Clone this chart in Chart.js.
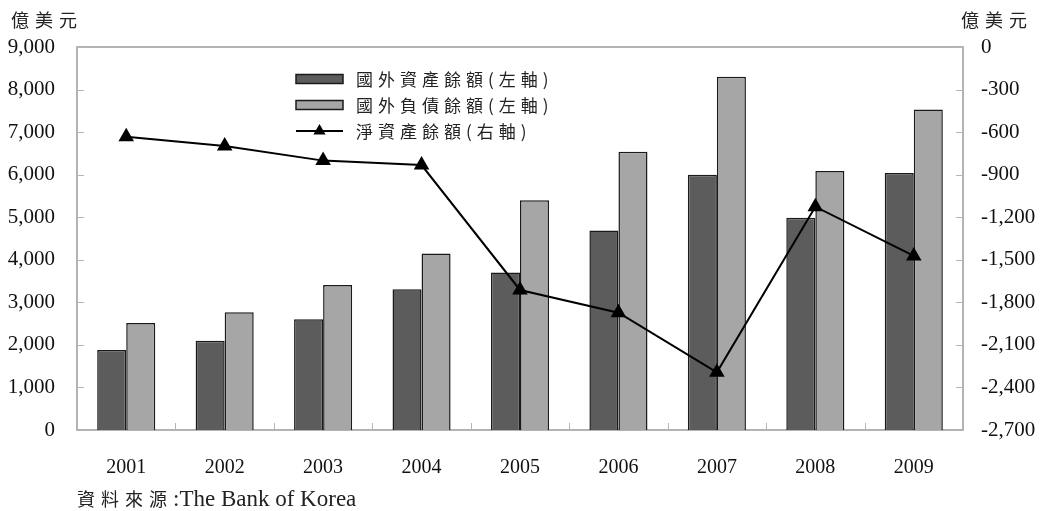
<!DOCTYPE html>
<html>
<head>
<meta charset="utf-8">
<script src="https://cdn.jsdelivr.net/npm/chart.js@4/dist/chart.umd.min.js"></script>
<style>
  html, body { margin: 0; padding: 0; background: #fff; }
  #wrap { position: relative; width: 1043px; height: 511px; overflow: hidden; }
  canvas { position: absolute; left: 0; top: 0; }
  .note { position: absolute; color: #222; white-space: nowrap; }
  .cjk { font-family: "Noto Sans CJK TC", "Noto Sans CJK SC", sans-serif; font-size: 18px; letter-spacing: 6px; line-height: 1; }
  .latin { font-family: "Liberation Serif", "DejaVu Serif", serif; font-size: 23px; letter-spacing: 0; }
</style>
</head>
<body>
<div id="wrap">
  <canvas id="chart" width="1043" height="511"></canvas>
  <div class="note cjk" style="left:11px; top:10px;">億美元</div>
  <div class="note cjk" style="left:961px; top:10px;">億美元</div>
  <div class="note cjk" style="left:77px; top:487px;">資料來源<span class="latin">:The Bank of Korea</span></div>
</div>
<script>
// Years on the category axis
const years = ['2001', '2002', '2003', '2004', '2005', '2006', '2007', '2008', '2009'];

// External assets and liabilities outstanding (100 million USD, left axis)
const externalAssets = [1880, 2100, 2600, 3310, 3700, 4690, 6000, 4985, 6040];
const externalLiabilities = [2515, 2765, 3405, 4150, 5400, 6540, 8300, 6085, 7530];

// Net asset position (100 million USD, right axis)
const netPosition = [-632, -698, -801, -832, -1713, -1873, -2293, -1126, -1473];

// Series names shown in the legend
const seriesNames = ['國外資產餘額(左軸)', '國外負債餘額(左軸)', '淨資產餘額(右軸)'];

// Axis ranges: min, max, step
const leftAxisRange = [0, 9000, 1000];
const rightAxisRange = [-2700, 0, 300];

const AXIS_GRAY = '#9a9a9a';
const fmt = v => Number(v).toLocaleString('en-US');

// Plot frame and inward tick marks
const framePlugin = {
  id: 'frame',
  beforeDatasetsDraw(chart) {
    const { ctx, chartArea: a, scales } = chart;
    ctx.save();
    ctx.strokeStyle = AXIS_GRAY;
    ctx.lineWidth = 1.5;
    ctx.strokeRect(a.left, a.top, a.right - a.left, a.bottom - a.top);
    ctx.lineWidth = 1;
    ctx.strokeStyle = '#b5b5b5';
    ctx.beginPath();
    scales.y.ticks.forEach(t => {
      const y = Math.round(scales.y.getPixelForValue(t.value)) + 0.5;
      ctx.moveTo(a.left, y); ctx.lineTo(a.left + 7, y);
    });
    scales.y1.ticks.forEach(t => {
      const y = Math.round(scales.y1.getPixelForValue(t.value)) + 0.5;
      ctx.moveTo(a.right - 7, y); ctx.lineTo(a.right, y);
    });
    const n = years.length;
    const step = (a.right - a.left) / n;
    for (let i = 1; i < n; i++) {
      const x = Math.round(a.left + i * step) + 0.5;
      ctx.moveTo(x, a.bottom); ctx.lineTo(x, a.bottom - 7);
    }
    ctx.stroke();
    ctx.restore();
  }
};

// Legend drawn inside the plot area
const innerLegendPlugin = {
  id: 'innerLegend',
  afterDraw(chart) {
    const { ctx } = chart;
    const x0 = 296, boxW = 47, boxH = 9, textX = 356;
    const rows = [79, 105, 131];
    ctx.save();
    ctx.font = '17px "Noto Sans CJK TC", "Noto Sans CJK SC", sans-serif';
    ctx.textBaseline = 'middle';
    ctx.textAlign = 'left';
    if ('letterSpacing' in ctx) ctx.letterSpacing = '5px';
    chart.data.datasets.forEach((ds, i) => {
      const y = rows[i];
      if (ds.type === 'line') {
        ctx.strokeStyle = '#000';
        ctx.lineWidth = 2;
        ctx.beginPath();
        ctx.moveTo(x0, y); ctx.lineTo(x0 + boxW, y);
        ctx.stroke();
        const cx = x0 + boxW / 2, r = 7;
        ctx.fillStyle = '#000';
        ctx.beginPath();
        ctx.moveTo(cx, y - r);
        ctx.lineTo(cx + r * 0.87, y + r * 0.5);
        ctx.lineTo(cx - r * 0.87, y + r * 0.5);
        ctx.closePath();
        ctx.fill();
      } else {
        ctx.fillStyle = ds.backgroundColor;
        ctx.fillRect(x0, y - boxH / 2, boxW, boxH);
        ctx.strokeStyle = '#1a1a1a';
        ctx.lineWidth = 1.5;
        ctx.strokeRect(x0, y - boxH / 2, boxW, boxH);
      }
      ctx.fillStyle = '#222';
      ctx.fillText(ds.label, textX, y + 1);
    });
    ctx.restore();
  }
};

new Chart(document.getElementById('chart'), {
  data: {
    labels: years,
    datasets: [
      {
        type: 'bar',
        label: seriesNames[0],
        data: externalAssets,
        yAxisID: 'y',
        order: 1,
        backgroundColor: '#5c5c5c',
        borderColor: '#1a1a1a',
        borderWidth: 1.5
      },
      {
        type: 'bar',
        label: seriesNames[1],
        data: externalLiabilities,
        yAxisID: 'y',
        order: 2,
        backgroundColor: '#a6a6a6',
        borderColor: '#1a1a1a',
        borderWidth: 1.5
      },
      {
        type: 'line',
        label: seriesNames[2],
        data: netPosition,
        yAxisID: 'y1',
        order: 0,
        borderColor: '#000',
        borderWidth: 2,
        backgroundColor: '#000',
        pointStyle: 'triangle',
        pointRadius: 7,
        pointBackgroundColor: '#000',
        pointBorderColor: '#000',
        tension: 0
      }
    ]
  },
  options: {
    responsive: false,
    animation: false,
    devicePixelRatio: 1,
    layout: { padding: { top: 47, left: 0, right: 0, bottom: 0 } },
    datasets: { bar: { categoryPercentage: 0.59, barPercentage: 1.0 } },
    plugins: { legend: { display: false }, tooltip: { enabled: false } },
    scales: {
      x: {
        grid: { display: false, drawTicks: false },
        border: { display: false },
        ticks: {
          color: '#111',
          padding: 26,
          font: { family: '"Liberation Serif", serif', size: 20 }
        },
        afterFit(s) { s.height = 81; }
      },
      y: {
        position: 'left',
        min: leftAxisRange[0], max: leftAxisRange[1],
        grid: { display: false, drawTicks: false },
        border: { display: false },
        ticks: {
          stepSize: leftAxisRange[2],
          color: '#111',
          padding: 22,
          font: { family: '"Liberation Serif", serif', size: 21 },
          callback: v => fmt(v)
        },
        afterFit(s) { s.width = 77; }
      },
      y1: {
        position: 'right',
        min: rightAxisRange[0], max: rightAxisRange[1],
        grid: { display: false, drawTicks: false },
        border: { display: false },
        ticks: {
          stepSize: rightAxisRange[2],
          color: '#111',
          padding: 18,
          font: { family: '"Liberation Serif", serif', size: 21 },
          callback: v => fmt(v)
        },
        afterFit(s) { s.width = 80; }
      }
    }
  },
  plugins: [framePlugin, innerLegendPlugin]
});
</script>
</body>
</html>
